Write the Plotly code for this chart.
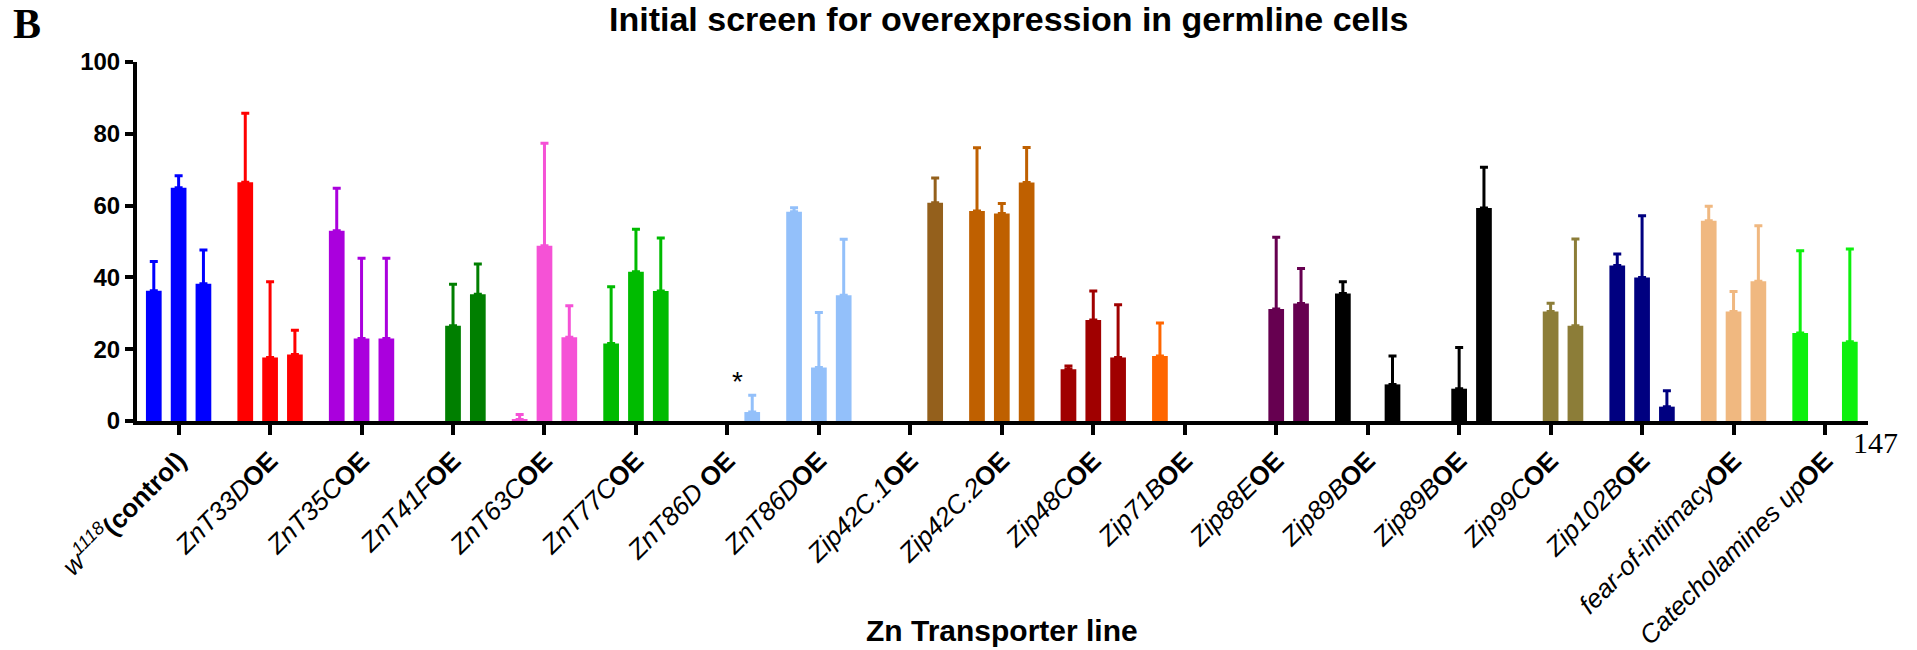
import plotly.graph_objects as go

# ---------------- data ----------------
lines = ["w1118 (control)", "ZnT33D OE", "ZnT35C OE", "ZnT41F OE", "ZnT63C OE",
         "ZnT77C OE", "ZnT86D OE (a)", "ZnT86D OE (b)", "Zip42C.1 OE", "Zip42C.2 OE",
         "Zip48C OE", "Zip71B OE", "Zip88E OE", "Zip89B OE (a)", "Zip89B OE (b)",
         "Zip99C OE", "Zip102B OE", "fear-of-intimacy OE", "Catecholamines up OE"]

tick_labels = ["<i>w</i><sup><i>1118</i></sup><b>(control)</b>",
               "<i>ZnT33D</i><b>OE</b>", "<i>ZnT35C</i><b>OE</b>", "<i>ZnT41F</i><b>OE</b>",
               "<i>ZnT63C</i><b>OE</b>", "<i>ZnT77C</i><b>OE</b>", "<i>ZnT86D</i> <b>OE</b>",
               "<i>ZnT86D</i><b>OE</b>", "<i>Zip42C.1</i><b>OE</b>", "<i>Zip42C.2</i><b>OE</b>",
               "<i>Zip48C</i><b>OE</b>", "<i>Zip71B</i><b>OE</b>", "<i>Zip88E</i><b>OE</b>",
               "<i>Zip89B</i><b>OE</b>", "<i>Zip89B</i><b>OE</b>", "<i>Zip99C</i><b>OE</b>",
               "<i>Zip102B</i><b>OE</b>", "<i>fear-of-intimacy</i><b>OE</b>",
               "<i>Catecholamines up</i><b>OE</b>"]

# three replicate bars per line (None = no bar)
rep1_mean = [36.3, 66.5, 53.0, None, 0.4, 21.6, None, 58.3, None, 58.5,
             14.4, 18.1, None, 35.5, None, None, 43.3, 55.8, 24.5]
rep1_sd   = [8.1, 19.2, 11.8, None, 1.4, 15.8, None, 1.1, None, 17.6,
             0.9, 9.2, None, 3.3, None, None, 3.2, 4.0, 22.9]
rep2_mean = [65.0, 17.7, 23.0, 26.5, 48.8, 41.6, None, 14.9, None, 57.8,
             28.1, None, 31.2, None, 9.0, 30.5, 40.0, 30.5, None]
rep2_sd   = [3.3, 21.1, 22.3, 11.6, 28.6, 11.8, None, 15.3, None, 2.8,
             8.1, None, 20.0, None, 11.5, 2.3, 17.2, 5.6, None]
rep3_mean = [38.2, 18.5, 23.0, 35.3, 23.3, 36.2, 2.5, 35.0, 60.8, 66.4,
             17.7, None, 32.7, 10.2, 59.3, 26.5, 4.0, 38.9, 22.1]
rep3_sd   = [9.4, 6.8, 22.3, 8.4, 8.8, 14.8, 4.7, 15.6, 6.9, 9.8,
             14.7, None, 9.8, 7.9, 11.4, 24.2, 4.4, 15.5, 25.8]

significant = [False, False, False, False, False, False, True, False, False, False,
               False, False, False, False, False, False, False, False, False]

y_ticks = [0, 20, 40, 60, 80, 100]

# ---------------- style ----------------
colors = ["#0000FF", "#FF0000", "#AA00DD", "#007F00", "#F552D6", "#00BB00",
          "#93C0FA", "#93C0FA", "#94601C", "#BF6000", "#A00000", "#FF6600",
          "#660050", "#000000", "#000000", "#8C7D38", "#000080", "#F0B880", "#0DF00D"]

W, H = 1917, 650
ML, MR, MT, MB = 137, 49, 62, 229
PW, PH = W - ML - MR, H - MT - MB
FONT = "Arial, Liberation Sans, sans-serif"


def px_x(px):
    return (px - ML) / PW


def px_y(py):
    return (H - MB - py) / PH


fig = go.Figure()
reps = [(rep1_mean, rep1_sd), (rep2_mean, rep2_sd), (rep3_mean, rep3_sd)]
for j, (means, sds) in enumerate(reps):
    for i, (m, s) in enumerate(zip(means, sds)):
        if m is None:
            continue
        fig.add_trace(go.Bar(
            x=[i], y=[m], offsetgroup=str(j),
            marker=dict(color=colors[i], line=dict(width=0)),
            error_y=dict(type="data", symmetric=False, array=[s], arrayminus=[0],
                         color=colors[i], thickness=3, width=4),
            showlegend=False, hoverinfo="skip"))

# significance asterisk
for i, sig in enumerate(significant):
    if sig:
        top = max((m or 0) + (s or 0) for m, s in
                  [(rep1_mean[i], rep1_sd[i]), (rep2_mean[i], rep2_sd[i]), (rep3_mean[i], rep3_sd[i])])
        fig.add_annotation(x=i, y=top + 3.8, xref="x", yref="y", text="*",
                           showarrow=False, xshift=10,
                           font=dict(family=FONT, size=28, color="black"))

fig.update_layout(
    width=W, height=H,
    margin=dict(l=ML, r=MR, t=MT, b=MB),
    paper_bgcolor="white", plot_bgcolor="white",
    barmode="group", bargap=0.186, bargroupgap=0.367,
    font=dict(family=FONT, color="black"),
    showlegend=False,
)

fig.update_xaxes(
    range=[-0.455, 18.47], tickmode="array",
    tickvals=list(range(len(lines))), ticktext=tick_labels,
    tickangle=-45, tickfont=dict(family=FONT, size=26, color="black"),
    showline=True, linecolor="black", linewidth=4,
    ticks="outside", ticklen=10, tickwidth=3.5, tickcolor="black",
    showgrid=False, zeroline=False, automargin=False,
)
fig.update_yaxes(
    range=[0, 100], tickmode="array", tickvals=y_ticks,
    ticktext=[f"<b>{v}</b>" for v in y_ticks],
    tickfont=dict(family=FONT, size=24, color="black"),
    showline=True, linecolor="black", linewidth=4,
    ticks="outside", ticklen=8, tickwidth=3.5, tickcolor="black",
    showgrid=False, zeroline=False, automargin=False,
)

# title, panel letter, axis title, page number
fig.add_annotation(text="<b>Initial screen for overexpression in germline cells</b>",
                   xref="paper", yref="paper", x=px_x(1008), y=px_y(19),
                   xanchor="center", yanchor="middle", showarrow=False,
                   font=dict(family=FONT, size=34, color="black"))
fig.add_annotation(text="<b>B</b>", xref="paper", yref="paper",
                   x=px_x(11), y=px_y(24), xanchor="left", yanchor="middle",
                   showarrow=False,
                   font=dict(family="Liberation Serif, Times New Roman, serif", size=42, color="black"))
fig.add_annotation(text="<b>Zn Transporter line</b>", xref="paper", yref="paper",
                   x=px_x(1002), y=px_y(630.6), xanchor="center", yanchor="middle",
                   showarrow=False, font=dict(family=FONT, size=30, color="black"))
fig.add_annotation(text="147", xref="paper", yref="paper",
                   x=px_x(1875), y=px_y(442.9), xanchor="center", yanchor="middle",
                   showarrow=False,
                   font=dict(family="Liberation Serif, Times New Roman, serif", size=30, color="black"))

fig.write_html("out.html")
